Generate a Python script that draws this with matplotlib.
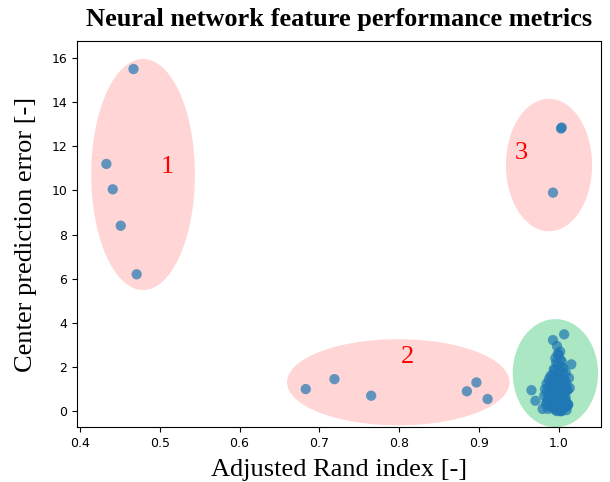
import matplotlib
matplotlib.use("Agg")
import matplotlib.pyplot as plt
from matplotlib.patches import Ellipse

# Adjusted Rand index and center prediction error per network feature
ari_group1 = [0.467, 0.433, 0.441, 0.451, 0.471]
err_group1 = [15.5, 11.2, 10.05, 8.4, 6.2]

ari_group2 = [0.683, 0.719, 0.765, 0.885, 0.897, 0.911]
err_group2 = [1.0, 1.45, 0.7, 0.9, 1.3, 0.55]

ari_group3 = [1.003, 1.004, 0.993]
err_group3 = [12.8, 12.85, 9.9]

ari_group4 = [1.007, 0.993, 0.998, 1.000, 1.016, 0.966, 0.971, 1.014, 1.013,
              1.002, 0.996, 1.004, 0.999, 1.006, 0.994, 1.001, 1.009, 0.990,
              0.997, 1.003, 0.988, 1.008, 0.995, 1.000, 0.985, 1.010, 0.992,
              1.005, 0.998, 0.983, 1.011, 0.989, 1.002, 0.996, 1.007, 0.986,
              1.004, 0.994, 1.000, 0.991, 1.009, 0.997, 1.003, 0.987, 1.006,
              0.993, 1.001, 0.999, 1.012, 0.984, 0.995, 1.005, 0.990, 1.008,
              0.998, 1.002, 0.980, 1.010, 0.996, 1.004,
              0.999, 1.002, 0.997, 1.004, 0.995, 1.006, 0.993, 1.001, 0.998,
              1.008, 0.989, 1.003, 0.994, 1.000, 0.986, 1.011, 0.991, 1.005,
              0.996, 1.007, 0.988, 1.002, 0.999, 0.992, 1.009, 0.985, 1.004,
              0.997, 1.012, 0.990, 1.001, 0.994, 1.006, 0.987, 1.003, 0.998,
              1.010, 0.993, 1.000, 0.982, 1.008, 0.995, 1.005, 0.989, 1.002]
err_group4 = [3.48, 3.22, 2.95, 2.55, 2.12, 0.95, 0.47, 1.05, 1.5,
              2.7, 2.4, 2.25, 2.1, 1.95, 1.9, 1.8, 1.75, 1.6,
              1.55, 1.5, 1.45, 1.4, 1.35, 1.3, 1.25, 1.2, 1.15,
              1.1, 1.05, 1.0, 0.95, 0.9, 0.9, 0.85, 0.8, 0.75,
              0.75, 0.7, 0.65, 0.6, 0.6, 0.55, 0.5, 0.5, 0.45,
              0.4, 0.4, 0.35, 0.3, 0.3, 0.25, 0.25, 0.2, 0.2,
              0.15, 0.1, 0.1, 0.05, 0.05, 0.0,
              2.6, 2.35, 2.2, 2.0, 1.85, 1.7, 1.65, 1.5, 1.45,
              1.35, 1.3, 1.2, 1.1, 1.05, 1.0, 0.95, 0.85, 0.8,
              0.75, 0.7, 0.65, 0.6, 0.55, 0.5, 0.45, 0.4, 0.35,
              0.35, 0.3, 0.25, 0.2, 0.15, 0.15, 0.1, 0.05, 0.0,
              0.2, 0.45, 0.9, 0.7, 0.3, 1.25, 0.55, 1.15, 0.0]

# cluster outlines: (center x, center y, width, height, colour), labels
clusters = [
    (0.479, 10.72, 0.130, 10.47, "#ffb3b3"),
    (0.799, 1.31, 0.279, 3.90, "#ffb3b3"),
    (0.988, 11.15, 0.108, 6.00, "#ffb3b3"),
    (0.996, 1.72, 0.107, 4.90, "#66d492"),
]
cluster_labels = [("1", 0.51, 11.06), ("2", 0.81, 2.45), ("3", 0.953, 11.7)]

fig = plt.figure(figsize=(6.1, 4.82), dpi=100)
ax = fig.add_axes([0.126, 0.114, 0.859, 0.801])

for cx, cy, w, h, col in clusters:
    ax.add_patch(Ellipse((cx, cy), w, h, facecolor=col, edgecolor="none",
                         alpha=0.55, zorder=1))

for xs, ys in [(ari_group1, err_group1), (ari_group2, err_group2),
               (ari_group3, err_group3), (ari_group4, err_group4)]:
    ax.scatter(xs, ys, s=55, color="#1f77b4", alpha=0.7, edgecolors="none",
               zorder=2)

for txt, x, y in cluster_labels:
    ax.text(x, y, txt, color="red", fontsize=19, family="Liberation Serif",
            ha="center", va="center", zorder=3)

ax.set_xlim(0.396, 1.053)
ax.set_ylim(-0.72, 16.77)
ax.set_xticks([0.4, 0.5, 0.6, 0.7, 0.8, 0.9, 1.0])
ax.set_yticks(range(0, 17, 2))
ax.tick_params(labelsize=9)

ax.set_xlabel("Adjusted Rand index [-]", fontsize=19, family="Liberation Serif",
              labelpad=7)
ax.set_ylabel("Center prediction error [-]", fontsize=19, family="Liberation Serif",
              labelpad=10)
ax.set_title("Neural network feature performance metrics", fontsize=19,
             fontweight="bold", family="Liberation Serif", pad=11)

fig.savefig("out.png", dpi=100)
